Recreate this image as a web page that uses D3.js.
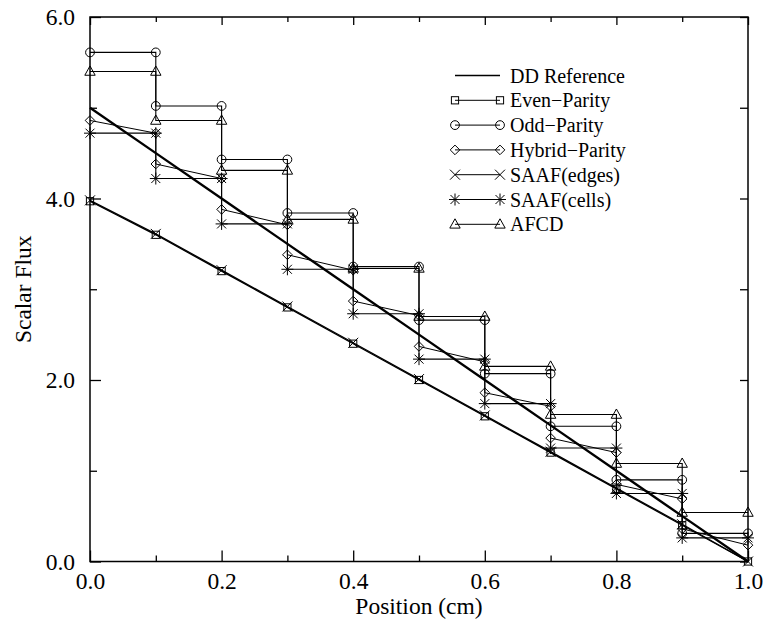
<!DOCTYPE html>
<html>
<head>
<meta charset="utf-8">
<script src="https://cdn.jsdelivr.net/npm/d3@7"></script>
<style>
  html, body { margin: 0; padding: 0; background: #fff; }
  svg { display: block; }
</style>
</head>
<body>
<svg id="chart" width="764" height="628"></svg>
<script>
// ---------------- data ----------------
const positions   = [0.0, 0.1, 0.2, 0.3, 0.4, 0.5, 0.6, 0.7, 0.8, 0.9, 1.0];
const ddReference = [5.00, 4.50, 4.00, 3.50, 3.00, 2.50, 2.00, 1.50, 1.00, 0.50, 0.00];
const evenParity  = [3.97, 3.60, 3.20, 2.80, 2.40, 2.00, 1.60, 1.20, 0.80, 0.40, 0.00];
const saafEdges   = [3.98, 3.61, 3.21, 2.81, 2.41, 2.01, 1.61, 1.21, 0.81, 0.41, 0.00];
// cell-wise values (cell i spans positions[i]..positions[i+1])
const oddParity   = [5.61, 5.02, 4.43, 3.84, 3.25, 2.66, 2.07, 1.49, 0.90, 0.31];
const hybridLeft  = [4.86, 4.38, 3.88, 3.38, 2.87, 2.37, 1.86, 1.36, 0.85, 0.36];
const hybridRight = [4.72, 4.22, 3.71, 3.21, 2.71, 2.20, 1.71, 1.20, 0.69, 0.18];
const saafCells   = [4.72, 4.22, 3.72, 3.22, 2.73, 2.23, 1.74, 1.25, 0.75, 0.26];
const afcd        = [5.40, 4.86, 4.31, 3.77, 3.23, 2.70, 2.15, 1.62, 1.08, 0.54];

const xMajorTicks = [0.0, 0.2, 0.4, 0.6, 0.8, 1.0];
const xMinorTicks = [0.1, 0.3, 0.5, 0.7, 0.9];
const yMajorTicks = [0.0, 2.0, 4.0, 6.0];
const yMinorTicks = [1.0, 3.0, 5.0];
const xTitle = "Position (cm)";
const yTitle = "Scalar Flux";
const legendLabels = ["DD Reference", "Even\u2212Parity", "Odd\u2212Parity", "Hybrid\u2212Parity", "SAAF(edges)", "SAAF(cells)", "AFCD"];

const FONT = "'Liberation Serif', 'Times New Roman', Times, 'DejaVu Serif', serif";

// ---------------- layout ----------------
const svg = d3.select("#chart");
const L = 90, R = 748, T = 17, B = 561.5;
const x = d3.scaleLinear().domain([0, 1]).range([L, R]);
const y = d3.scaleLinear().domain([0, 6]).range([B, T]);

// ---------------- marker shapes ----------------
function drawMarker(g, type, cx, cy) {
  const m = g.append("g").attr("transform", `translate(${cx},${cy})`)
    .attr("fill", "none").attr("stroke", "#000").attr("stroke-width", 1);
  if (type === "square") {
    m.append("rect").attr("x", -3.6).attr("y", -3.6).attr("width", 7.2).attr("height", 7.2);
  } else if (type === "circle") {
    m.append("circle").attr("r", 4.4);
  } else if (type === "diamond") {
    m.append("path").attr("d", "M0,-4.8L4.8,0L0,4.8L-4.8,0Z");
  } else if (type === "x") {
    m.append("path").attr("d", "M-5,-5L5,5M-5,5L5,-5");
  } else if (type === "star") {
    m.append("path").attr("d", "M-4.5,-4.5L4.5,4.5M-4.5,4.5L4.5,-4.5M0,-6L0,6M-6,0L6,0");
  } else if (type === "triangle") {
    m.append("path").attr("d", "M0,-5.5L5.2,3.8L-5.2,3.8Z");
  }
}

const line = d3.line().x(d => x(d[0])).y(d => y(d[1]));

function pointSeries(vals) { return positions.map((p, i) => [p, vals[i]]); }
function stepSeries(vals) {
  const pts = [];
  vals.forEach((v, i) => { pts.push([positions[i], v]); pts.push([positions[i + 1], v]); });
  return pts;
}
function sloped(left, right) {
  const pts = [];
  left.forEach((v, i) => { pts.push([positions[i], v]); pts.push([positions[i + 1], right[i]]); });
  return pts;
}

const series = [
  { pts: pointSeries(evenParity), marker: "square", w: 1.3 },
  { pts: pointSeries(saafEdges), marker: "x", w: 1.3 },
  { pts: stepSeries(saafCells), marker: "star", w: 1.1 },
  { pts: sloped(hybridLeft, hybridRight), marker: "diamond", w: 1 },
  { pts: stepSeries(afcd), marker: "triangle", w: 1.1 },
  { pts: stepSeries(oddParity), marker: "circle", w: 1.1 }
];

const plot = svg.append("g");
series.forEach(s => {
  plot.append("path").attr("d", line(s.pts)).attr("fill", "none")
    .attr("stroke", "#000").attr("stroke-width", s.w);
  s.pts.forEach(p => drawMarker(plot, s.marker, x(p[0]), y(p[1])));
});
// DD reference (thick line)
plot.append("path").attr("d", line(pointSeries(ddReference))).attr("fill", "none")
  .attr("stroke", "#000").attr("stroke-width", 2.4);

// ---------------- axes ----------------
const fmt = d3.format(".1f");
function styleAxis(g) {
  g.attr("font-family", null).attr("font-size", null);
  g.selectAll("path.domain").remove();
  g.selectAll("line").attr("stroke", "#000").attr("stroke-width", 1.3);
  g.selectAll("text").attr("font-family", FONT).attr("font-size", 23.5).attr("fill", "#000");
}
svg.append("g").attr("transform", `translate(0,${B})`)
  .call(d3.axisBottom(x).tickValues(xMajorTicks).tickSize(-11).tickPadding(11).tickFormat(fmt)).call(styleAxis);
svg.append("g").attr("transform", `translate(0,${B})`)
  .call(d3.axisBottom(x).tickValues(xMinorTicks).tickSize(-6).tickFormat("")).call(styleAxis);
svg.append("g").attr("transform", `translate(0,${T})`)
  .call(d3.axisTop(x).tickValues(xMajorTicks).tickSize(-8).tickFormat("")).call(styleAxis);
svg.append("g").attr("transform", `translate(0,${T})`)
  .call(d3.axisTop(x).tickValues(xMinorTicks).tickSize(-5).tickFormat("")).call(styleAxis);
svg.append("g").attr("transform", `translate(${L},0)`)
  .call(d3.axisLeft(y).tickValues(yMajorTicks).tickSize(-11).tickPadding(15).tickFormat(fmt)).call(styleAxis);
svg.append("g").attr("transform", `translate(${L},0)`)
  .call(d3.axisLeft(y).tickValues(yMinorTicks).tickSize(-7).tickFormat("")).call(styleAxis);
svg.append("g").attr("transform", `translate(${R},0)`)
  .call(d3.axisRight(y).tickValues(yMajorTicks).tickSize(-8).tickFormat("")).call(styleAxis);
svg.append("g").attr("transform", `translate(${R},0)`)
  .call(d3.axisRight(y).tickValues(yMinorTicks).tickSize(-8).tickFormat("")).call(styleAxis);

// frame
svg.append("rect").attr("x", L).attr("y", T).attr("width", R - L).attr("height", B - T)
  .attr("fill", "none").attr("stroke", "#000").attr("stroke-width", 1.5);

// titles
svg.append("text").attr("x", (L + R) / 2).attr("y", 614).attr("text-anchor", "middle")
  .attr("font-family", FONT).attr("font-size", 23.5).attr("fill", "#000").text(xTitle);
svg.append("text").attr("transform", `translate(31,${(T + B) / 2}) rotate(-90)`)
  .attr("text-anchor", "middle").attr("font-family", FONT).attr("font-size", 23.5)
  .attr("fill", "#000").text(yTitle);

// ---------------- legend ----------------
const legendMarkers = [null, "square", "circle", "diamond", "x", "star", "triangle"];
const lg = svg.append("g");
legendLabels.forEach((lab, i) => {
  const ly = 75.5 + i * 24.8;
  lg.append("line").attr("x1", 455).attr("x2", 500).attr("y1", ly).attr("y2", ly)
    .attr("stroke", "#000").attr("stroke-width", i === 0 ? 1.5 : 1);
  if (legendMarkers[i]) {
    drawMarker(lg, legendMarkers[i], 455, ly);
    drawMarker(lg, legendMarkers[i], 500, ly);
  }
  lg.append("text").attr("x", 510).attr("y", ly).attr("dy", "0.35em")
    .attr("font-family", FONT).attr("font-size", 20).attr("fill", "#000").text(lab);
});
</script>
</body>
</html>
